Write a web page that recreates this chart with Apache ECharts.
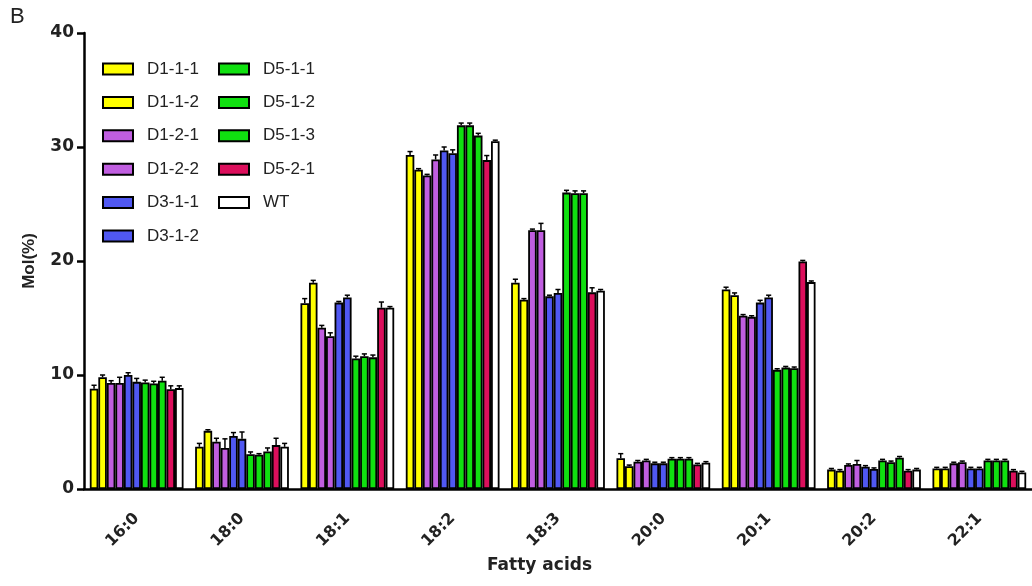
<!DOCTYPE html>
<html>
<head>
<meta charset="utf-8">
<script src="https://cdn.jsdelivr.net/npm/echarts@6/dist/echarts.min.js"></script>
<style>
html,body{margin:0;padding:0;background:#fff;}
#chart{width:1032px;height:586px;}
</style>
</head>
<body>
<div id="chart"></div>
<script>
const categories = ['16:0','18:0','18:1','18:2','18:3','20:0','20:1','20:2','22:1'];
const seriesNames = ['D1-1-1','D1-1-2','D1-2-1','D1-2-2','D3-1-1','D3-1-2','D5-1-1','D5-1-2','D5-1-3','D5-2-1','WT'];
const yTicks = [0,10,20,30,40];

const D1_1_1 = [8.8, 3.7, 16.3, 29.3, 18.1, 2.7, 17.5, 1.7, 1.8];
const D1_1_2 = [9.8, 5.1, 18.1, 28.0, 16.6, 2.0, 17.0, 1.6, 1.8];
const D1_2_1 = [9.3, 4.15, 14.15, 27.5, 22.7, 2.4, 15.2, 2.1, 2.25];
const D1_2_2 = [9.3, 3.6, 13.4, 28.9, 22.7, 2.5, 15.1, 2.2, 2.35];
const D3_1_1 = [10.0, 4.65, 16.35, 29.7, 16.9, 2.25, 16.35, 1.95, 1.8];
const D3_1_2 = [9.4, 4.4, 16.8, 29.45, 17.2, 2.25, 16.8, 1.75, 1.8];
const D5_1_1 = [9.35, 3.05, 11.45, 31.9, 26.0, 2.65, 10.45, 2.5, 2.5];
const D5_1_2 = [9.25, 3.0, 11.65, 31.9, 25.95, 2.65, 10.65, 2.35, 2.5];
const D5_1_3 = [9.5, 3.3, 11.55, 31.0, 25.95, 2.65, 10.6, 2.75, 2.5];
const D5_2_1 = [8.75, 3.85, 15.9, 28.85, 17.25, 2.15, 19.95, 1.6, 1.6];
const WT     = [8.85, 3.7, 15.9, 30.5, 17.4, 2.3, 18.15, 1.7, 1.45];

const E1_1_1 = [0.3,0.3,0.4,0.3,0.3,0.4,0.2,0.1,0.1];
const E1_1_2 = [0.2,0.1,0.2,0.1,0.1,0.1,0.2,0.1,0.1];
const E1_2_1 = [0.2,0.3,0.2,0.1,0.1,0.1,0.1,0.1,0.1];
const E1_2_2 = [0.5,0.8,0.3,0.4,0.6,0.1,0.1,0.3,0.1];
const E3_1_1 = [0.2,0.3,0.1,0.3,0.1,0.1,0.2,0.1,0.1];
const E3_1_2 = [0.3,0.6,0.2,0.3,0.3,0.1,0.2,0.1,0.1];
const E5_1_1 = [0.2,0.2,0.2,0.2,0.2,0.1,0.1,0.1,0.1];
const E5_1_2 = [0.2,0.1,0.2,0.2,0.2,0.1,0.1,0.1,0.1];
const E5_1_3 = [0.3,0.3,0.2,0.2,0.2,0.1,0.1,0.1,0.1];
const E5_2_1 = [0.3,0.6,0.5,0.4,0.4,0.1,0.1,0.1,0.1];
const E_WT   = [0.2,0.3,0.1,0.1,0.1,0.1,0.1,0.1,0.1];

const values = [D1_1_1,D1_1_2,D1_2_1,D1_2_2,D3_1_1,D3_1_2,D5_1_1,D5_1_2,D5_1_3,D5_2_1,WT];
const errors = [E1_1_1,E1_1_2,E1_2_1,E1_2_2,E3_1_1,E3_1_2,E5_1_1,E5_1_2,E5_1_3,E5_2_1,E_WT];
const colors = ['#ffff00','#ffff00','#c05ee0','#c05ee0','#5058f2','#5058f2','#10e010','#10e010','#10e010','#dc0f5c','#ffffff'];

const GAP = 0.11;
const FONT = '"Liberation Sans", Arial, sans-serif';
const BFONT = '"DejaVu Sans", sans-serif';

const barSeries = seriesNames.map((n, i) => ({
  name: n,
  type: 'bar',
  data: values[i],
  barGap: '0%',
  barCategoryGap: (GAP*100) + '%',
  itemStyle: { color: colors[i], borderColor: '#000', borderWidth: 1.8 },
  emphasis: { disabled: true },
  z: 2
}));

const errData = [];
for (let s = 0; s < values.length; s++) {
  for (let c = 0; c < categories.length; c++) {
    errData.push([c, values[s][c], errors[s][c], s]);
  }
}

const errSeries = {
  type: 'custom',
  name: 'err',
  z: 5,
  silent: true,
  renderItem: function (params, api) {
    const c = api.value(0), v = api.value(1), e = api.value(2), s = api.value(3);
    const band = api.size([1, 0])[0];
    const groupW = band * (1 - GAP);
    const barW = groupW / seriesNames.length;
    const p0 = api.coord([c, v]);
    const p1 = api.coord([c, v + e]);
    const x = p0[0] - groupW / 2 + (s + 0.5) * barW;
    return {
      type: 'group',
      children: [
        { type: 'line', shape: { x1: x, y1: p0[1], x2: x, y2: p1[1] }, style: { stroke: '#000', lineWidth: 1.5 } },
        { type: 'line', shape: { x1: x - barW * 0.3, y1: p1[1], x2: x + barW * 0.3, y2: p1[1] }, style: { stroke: '#000', lineWidth: 1.5 } }
      ]
    };
  },
  data: errData
};

const legendText = { fontFamily: FONT, fontSize: 17, color: '#222', lineHeight: 18, padding: [0, 0, 0, 9] };
const legendItem = { borderColor: '#000', borderWidth: 2 };

const option = {
  backgroundColor: '#fff',
  animation: false,
  graphic: [
    { type: 'text', left: 10, top: 6, style: { text: 'B', font: '22px ' + FONT, fill: '#222' } },
    { type: 'text', left: 487, top: 557, style: { text: 'Fatty acids', font: 'bold 17px ' + BFONT, fill: '#222' } }
  ],
  legend: [
    { data: seriesNames.slice(0, 6), orient: 'vertical', left: 97, top: 55, itemWidth: 30, itemHeight: 11, itemGap: 15.4, icon: 'rect', itemStyle: legendItem, textStyle: legendText, selectedMode: false },
    { data: seriesNames.slice(6), orient: 'vertical', left: 213, top: 55, itemWidth: 30, itemHeight: 11, itemGap: 15.4, icon: 'rect', itemStyle: legendItem, textStyle: legendText, selectedMode: false }
  ],
  grid: { left: 84, top: 33, width: 958, height: 456 },
  xAxis: {
    type: 'category',
    data: categories,
    axisLine: { lineStyle: { color: '#000', width: 2.5 } },
    axisTick: { alignWithLabel: true, length: 7, lineStyle: { color: '#000', width: 2.5 } },
    axisLabel: { rotate: 45, margin: 27, fontFamily: BFONT, fontWeight: 'bold', fontSize: 16, color: '#222' }
  },
  yAxis: {
    type: 'value',
    min: yTicks[0], max: yTicks[yTicks.length - 1], interval: 10,
    name: 'Mol(%)',
    nameLocation: 'middle',
    nameGap: 46,
    nameTextStyle: { fontFamily: FONT, fontWeight: 'bold', fontSize: 17, color: '#222' },
    axisLine: { show: true, lineStyle: { color: '#000', width: 2.5 } },
    axisTick: { show: true, length: 7, lineStyle: { color: '#000', width: 2.5 } },
    axisLabel: { margin: 10, fontFamily: BFONT, fontWeight: 'bold', fontSize: 17, color: '#222' },
    splitLine: { show: false }
  },
  series: barSeries.concat([errSeries])
};

const chart = echarts.init(document.getElementById('chart'), null, { renderer: 'canvas' });
chart.setOption(option);
</script>
</body>
</html>
